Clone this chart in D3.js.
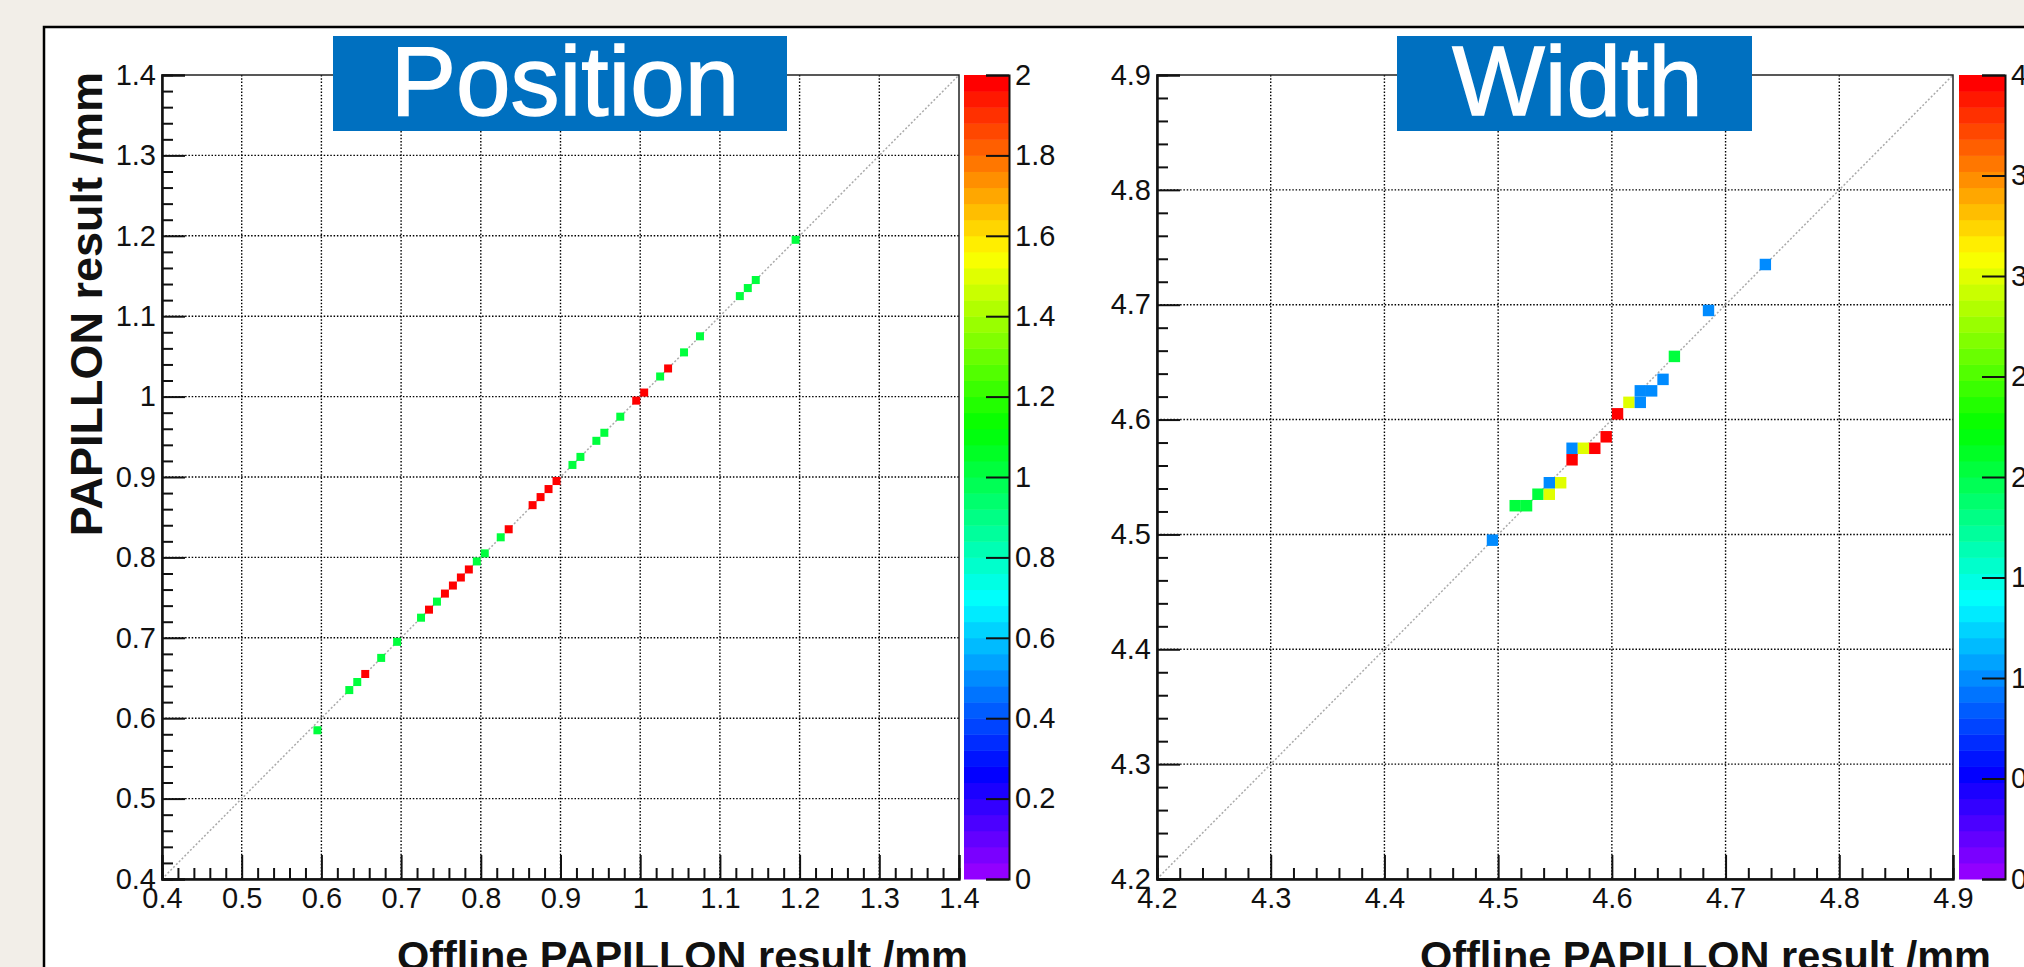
<!DOCTYPE html>
<html>
<head>
<meta charset="utf-8">
<script src="https://cdn.jsdelivr.net/npm/d3@7"></script>
<style>
  body { margin: 0; background: #f2eee8; }
  svg { display: block; }
  text { font-family: "Liberation Sans", Arial, sans-serif; }
</style>
</head>
<body>
<div class="chart"></div>
<script>
// Position panel: bin centres (offline, papillon) and bin content
var positionX = [0.595, 0.635, 0.645, 0.655, 0.675, 0.695, 0.725, 0.735, 0.745, 0.755, 0.765, 0.775,
  0.785, 0.795, 0.805, 0.825, 0.835, 0.865, 0.875, 0.885, 0.895, 0.915, 0.925, 0.945, 0.955, 0.975,
  0.995, 1.005, 1.025, 1.035, 1.055, 1.075, 1.125, 1.135, 1.145, 1.195];
var positionY = [0.585, 0.635, 0.645, 0.655, 0.675, 0.695, 0.725, 0.735, 0.745, 0.755, 0.765, 0.775,
  0.785, 0.795, 0.805, 0.825, 0.835, 0.865, 0.875, 0.885, 0.895, 0.915, 0.925, 0.945, 0.955, 0.975,
  0.995, 1.005, 1.025, 1.035, 1.055, 1.075, 1.125, 1.135, 1.145, 1.195];
var positionZ = [1, 1, 1, 2, 1, 1, 1, 2, 1, 2, 2, 2, 2, 1, 1, 1, 2, 2, 2, 2, 2, 1, 1, 1, 1, 1,
  2, 2, 1, 2, 1, 1, 1, 1, 1, 1];

// Width panel
var widthX = [4.495, 4.515, 4.525, 4.535, 4.545, 4.545, 4.555, 4.565, 4.565, 4.575, 4.585,
  4.595, 4.605, 4.615, 4.625, 4.625, 4.635, 4.645, 4.655, 4.685, 4.735];
var widthY = [4.495, 4.525, 4.525, 4.535, 4.535, 4.545, 4.545, 4.565, 4.575, 4.575, 4.575,
  4.585, 4.605, 4.615, 4.615, 4.625, 4.625, 4.635, 4.655, 4.695, 4.735];
var widthZ = [1, 2, 2, 2, 3, 1, 3, 4, 1, 3, 4, 4, 4, 3, 1, 1, 1, 1, 2, 1, 1];

var positionRange = [0.4, 1.4];
var widthRange = [4.2, 4.9];
var positionZmax = 2;
var widthZmax = 4;
var binSize = 0.01;
var nColors = 50;

var W = 2024, H = 967;

var svg = d3.select('.chart')
  .append('svg')
    .attr('width', W)
    .attr('height', H);

// white canvas frame
svg.append('rect')
  .attr('x', 44).attr('y', 27)
  .attr('width', W).attr('height', H)
  .attr('fill', '#fff')
  .attr('stroke', '#000')
  .attr('stroke-width', 2.5);

// ROOT "pretty" palette (hue 280 -> 0)
function rootColor(i) {
  return d3.hsl(280 - (i + 1) * (280 / nColors), 1, 0.5).formatHex();
}
function zColor(z, zmax) {
  return rootColor(Math.min(nColors - 1, Math.floor(z / zmax * nColors)));
}
function fmt(d) {
  return String(+d.toFixed(2));
}

function drawPanel(cfg) {
  var g = svg.append('g');
  var x = d3.scaleLinear().domain(cfg.range).range([cfg.left, cfg.right]);
  var y = d3.scaleLinear().domain(cfg.range).range([cfg.bottom, cfg.top]);
  var h = cfg.bottom - cfg.top, w = cfg.right - cfg.left;

  var major = d3.range(Math.round(cfg.range[0] * 10), Math.round(cfg.range[1] * 10) + 1).map(d => d / 10);
  var minor = d3.range(Math.round(cfg.range[0] * 50), Math.round(cfg.range[1] * 50) + 1)
    .map(d => d / 50).filter(d => Math.abs(d * 10 - Math.round(d * 10)) > 1e-6);

  // grid
  var grid = g.append('g').attr('class', 'grid');
  grid.selectAll('line.gx')
    .data(major.slice(1, -1))
    .enter().append('line')
      .attr('x1', d => x(d)).attr('x2', d => x(d))
      .attr('y1', cfg.top).attr('y2', cfg.bottom);
  grid.selectAll('line.gy')
    .data(major.slice(1, -1))
    .enter().append('line')
      .attr('x1', cfg.left).attr('x2', cfg.right)
      .attr('y1', d => y(d)).attr('y2', d => y(d));
  grid.selectAll('line')
    .attr('stroke', '#000')
    .attr('stroke-width', 1.4)
    .attr('stroke-dasharray', '1.5,1.8');

  // diagonal reference
  g.append('line')
    .attr('x1', x(cfg.range[0])).attr('y1', y(cfg.range[0]))
    .attr('x2', x(cfg.range[1])).attr('y2', y(cfg.range[1]))
    .attr('stroke', '#aaa')
    .attr('stroke-width', 1.5)
    .attr('stroke-dasharray', '2,2');

  // bins
  g.selectAll('rect.bin')
    .data(cfg.xs.map((d, i) => ({ x: d, y: cfg.ys[i], z: cfg.zs[i] })))
    .enter().append('rect')
      .attr('class', 'bin')
      .attr('x', d => x(d.x - binSize / 2))
      .attr('y', d => y(d.y + binSize / 2))
      .attr('width', d => x(d.x + binSize / 2) - x(d.x - binSize / 2))
      .attr('height', d => y(d.y - binSize / 2) - y(d.y + binSize / 2))
      .attr('fill', d => zColor(d.z, cfg.zmax));

  // frame top / right
  g.append('rect')
    .attr('x', cfg.left).attr('y', cfg.top)
    .attr('width', w).attr('height', h)
    .attr('fill', 'none')
    .attr('stroke', '#222')
    .attr('stroke-width', 1.5);

  // axes
  g.append('g')
    .attr('transform', 'translate(0,' + cfg.bottom + ')')
    .call(d3.axisBottom(x).tickValues(major).tickSize(-24).tickPadding(8).tickFormat(fmt));
  g.append('g')
    .attr('transform', 'translate(0,' + cfg.bottom + ')')
    .call(d3.axisBottom(x).tickValues(minor).tickSize(-11).tickFormat(''));
  g.append('g')
    .attr('transform', 'translate(' + cfg.left + ',0)')
    .call(d3.axisLeft(y).tickValues(major).tickSize(-23).tickPadding(6).tickFormat(fmt));
  g.append('g')
    .attr('transform', 'translate(' + cfg.left + ',0)')
    .call(d3.axisLeft(y).tickValues(minor).tickSize(-11).tickFormat(''));

  g.selectAll('.domain').attr('stroke-width', 2).attr('stroke', '#111');
  g.selectAll('.tick line').attr('stroke-width', 2).attr('stroke', '#111');
  g.selectAll('.tick text').style('font-size', '29px').attr('fill', '#111');

  // palette
  var pz = d3.scaleLinear().domain([0, cfg.zmax]).range([cfg.bottom, cfg.top]);
  var bands = d3.range(nColors);
  g.selectAll('rect.band')
    .data(bands)
    .enter().append('rect')
      .attr('x', cfg.palLeft)
      .attr('width', cfg.palRight - cfg.palLeft)
      .attr('y', d => pz((d + 1) * cfg.zmax / nColors))
      .attr('height', d => pz(d * cfg.zmax / nColors) - pz((d + 1) * cfg.zmax / nColors) + 0.5)
      .attr('fill', d => rootColor(d));
  var palTicks = d3.range(0, Math.round(cfg.zmax / cfg.palStep) + 1).map(d => +(d * cfg.palStep).toFixed(2));
  var palAxis = g.append('g')
    .attr('transform', 'translate(' + cfg.palRight + ',0)')
    .call(d3.axisRight(pz).tickValues(palTicks).tickSize(-23).tickPadding(6).tickFormat(fmt));
  palAxis.select('.domain').attr('stroke-width', 2).attr('stroke', '#111');
  palAxis.selectAll('.tick line').attr('stroke-width', 2).attr('stroke', '#111');
  palAxis.selectAll('.tick text').style('font-size', '29px').attr('fill', '#111');

  // axis titles
  g.append('text')
    .attr('x', cfg.xTitleEnd)
    .attr('y', 970)
    .attr('text-anchor', 'end')
    .style('font-size', '41.5px')
    .style('font-weight', 'bold')
    .attr('fill', '#111')
    .text('Offline PAPILLON result /mm');
  if (cfg.yTitle) {
    g.append('text')
      .attr('transform', 'translate(102,' + (cfg.top - 3) + ') rotate(-90)')
      .attr('text-anchor', 'end')
      .style('font-size', '45px')
      .style('font-weight', 'bold')
      .attr('fill', '#111')
      .text(cfg.yTitle);
  }

  // title box
  g.append('rect')
    .attr('x', cfg.boxLeft).attr('y', 36)
    .attr('width', cfg.boxRight - cfg.boxLeft).attr('height', 95)
    .attr('fill', '#0070c0');
  g.append('text')
    .attr('x', (cfg.boxLeft + cfg.boxRight) / 2 + cfg.titleShift)
    .attr('y', 115)
    .attr('text-anchor', 'middle')
    .style('font-size', '98px')
    .attr('fill', '#fff')
    .attr('stroke', '#fff')
    .attr('stroke-width', 1.5)
    .text(cfg.title);
}

drawPanel({
  range: positionRange, xs: positionX, ys: positionY, zs: positionZ, zmax: positionZmax,
  left: 162, right: 959, top: 75, bottom: 879,
  palLeft: 964, palRight: 1009, palStep: 0.2,
  boxLeft: 333, boxRight: 787, title: 'Position', titleShift: 5,
  xTitleEnd: 968,
  yTitle: 'PAPILLON result /mm'
});

drawPanel({
  range: widthRange, xs: widthX, ys: widthY, zs: widthZ, zmax: widthZmax,
  left: 1157, right: 1953, top: 75, bottom: 879,
  palLeft: 1959, palRight: 2005, palStep: 0.5,
  boxLeft: 1397, boxRight: 1752, title: 'Width', titleShift: 3,
  xTitleEnd: 1991
});
</script>
</body>
</html>
